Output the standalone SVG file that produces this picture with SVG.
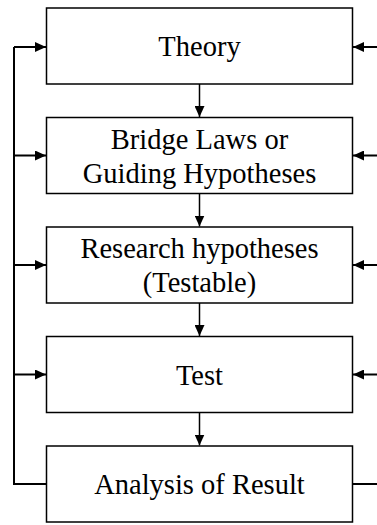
<svg xmlns="http://www.w3.org/2000/svg" width="377" height="525" viewBox="0 0 377 525">
<style>
.box{fill:#fff;stroke:#000;stroke-width:1.5}
.t{font-family:"Liberation Serif","Times New Roman",serif;font-size:28.5px;text-anchor:middle;fill:#000}
.c{fill:none;stroke:#000;stroke-width:2}
.d{fill:none;stroke:#000;stroke-width:1.5}
</style>
<defs>
<marker id="ah" viewBox="0 0 11 10" refX="11" refY="5" markerWidth="11" markerHeight="10" markerUnits="userSpaceOnUse" orient="auto">
<path d="M0,0 L11,5 L0,10 Z" fill="#000"/>
</marker>
</defs>
<g id="n1"><rect class="box" x="46.5" y="8" width="306" height="76"/><text class="t" x="199.5" y="56">Theory</text></g>
<g id="n2"><rect class="box" x="46.5" y="117.5" width="306" height="76"/><text class="t" x="199.5" y="148.5">Bridge Laws or</text><text class="t" x="199.5" y="182.5">Guiding Hypotheses</text></g>
<g id="n3"><rect class="box" x="46.5" y="227" width="306" height="76"/><text class="t" x="199.5" y="258">Research hypotheses</text><text class="t" x="199.5" y="292">(Testable)</text></g>
<g id="n4"><rect class="box" x="46.5" y="336.5" width="306" height="76"/><text class="t" x="199.5" y="384.5">Test</text></g>
<g id="n5"><rect class="box" x="46.5" y="446" width="306" height="76"/><text class="t" x="199.5" y="494">Analysis of Result</text></g>
<g id="connectors">
<path class="d" d="M199.5,84 V117" marker-end="url(#ah)"/>
<path class="d" d="M199.5,193.5 V226.5" marker-end="url(#ah)"/>
<path class="d" d="M199.5,303 V336" marker-end="url(#ah)"/>
<path class="d" d="M199.5,412.5 V445.5" marker-end="url(#ah)"/>
<path class="c" d="M46.5,484 H14 V47"/>
<path class="c" d="M14,47 H46" marker-end="url(#ah)"/>
<path class="c" d="M14,155.5 H46" marker-end="url(#ah)"/>
<path class="c" d="M14,265 H46" marker-end="url(#ah)"/>
<path class="c" d="M14,374.5 H46" marker-end="url(#ah)"/>
<path class="c" d="M377,47 H353" marker-end="url(#ah)"/>
<path class="c" d="M377,155.5 H353" marker-end="url(#ah)"/>
<path class="c" d="M377,265 H353" marker-end="url(#ah)"/>
<path class="c" d="M377,374.5 H353" marker-end="url(#ah)"/>
<path class="c" d="M352.5,484 H377"/>
</g>
</svg>
